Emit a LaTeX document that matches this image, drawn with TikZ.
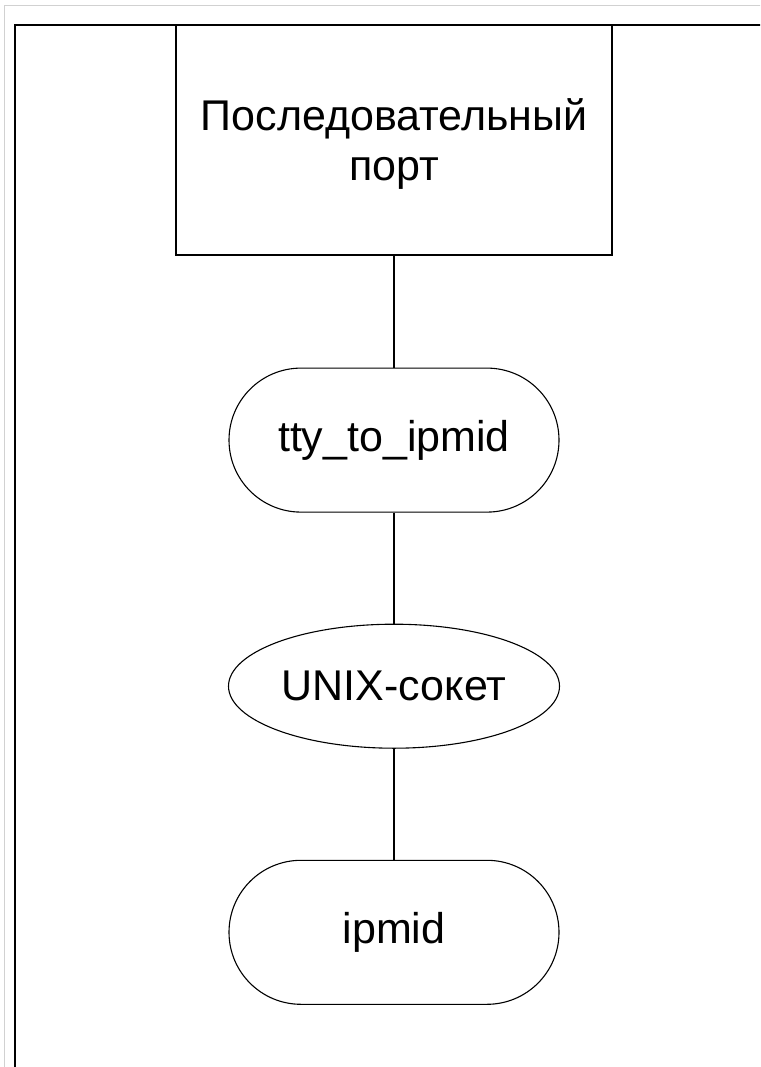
\documentclass[tikz,border=0pt]{standalone}
\usepackage{fontspec}
\setmainfont{Liberation Sans}
\usetikzlibrary{positioning,shapes.geometric}
\def\bigfont{\fontsize{43}{50}\selectfont}

\begin{document}
\begin{tikzpicture}[x=1pt,y=-1pt,line width=1.1pt,auto,node distance=111pt,
                    port node/.style={rectangle,draw,minimum width=436pt,minimum height=230pt,
                                      inner sep=0pt,align=center,text depth=0pt,font=\bigfont},
                    proc node/.style={rectangle,rounded corners=72pt,draw,minimum width=330pt,
                                      minimum height=144pt,inner sep=0pt,font=\bigfont},
                    sock node/.style={ellipse,draw,minimum width=331pt,minimum height=124pt,
                                      inner sep=0pt,font=\bigfont}]

              \path[use as bounding box,clip] (0,0) rectangle (760,1067);
              \draw[black!18,line width=1pt] (4.5,5.5) rectangle (800,1100);
              \draw (15,25) rectangle (800,1100);

              \node[port node] (1) at (394,140) {Последовательный\\порт};
              \node[proc node] (2) [below=112pt of 1] {tty\_to\_ipmid};
              \node[sock node] (3) [below=111pt of 2] {UNIX-сокет};
              \node[proc node] (4) [below=111pt of 3] {ipmid};

              \path
               (1) edge (2)
               (2) edge (3)
               (3) edge (4);
            \end{tikzpicture}
\end{document}
